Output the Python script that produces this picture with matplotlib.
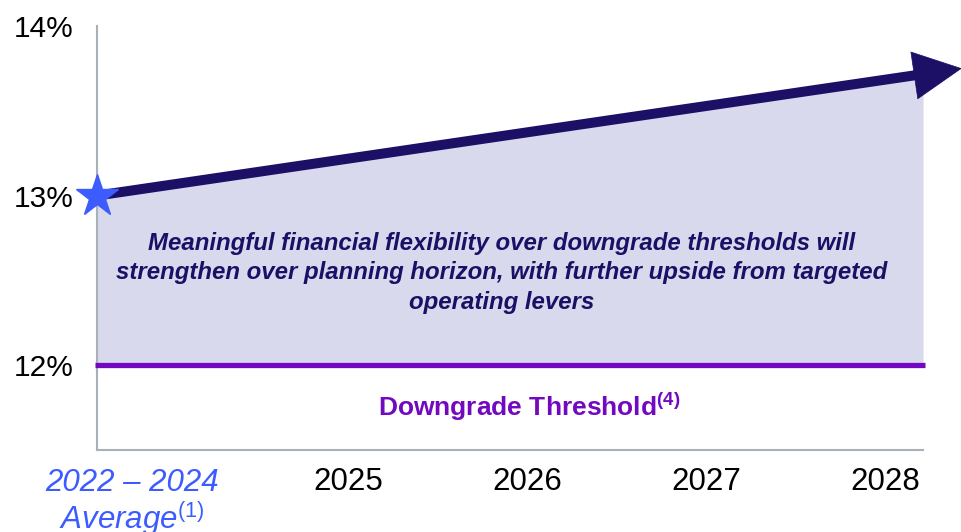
import matplotlib
matplotlib.use("Agg")
import matplotlib.pyplot as plt

# ---- data ----
y_ticks = [12, 13, 14]
y_tick_labels = ["12%", "13%", "14%"]
year_labels = ["2025", "2026", "2027", "2028"]
avg_label = "2022 – 2024\nAverage$^{\\mathit{(1)}}$"
trend_start = 13.0      # 2022-2024 average
trend_end = 13.75       # arrow tip level
threshold = 12.0
note = ("Meaningful financial flexibility over downgrade thresholds will\n"
        "strengthen over planning horizon, with further upside from targeted\n"
        "operating levers")
threshold_label = "Downgrade Threshold$^{\\mathbf{(4)}}$"

# ---- colours ----
NAVY = "#1B0F66"
FILL = "#D8D9ED"
PURPLE = "#7209C0"
BLUE = "#3D5CFF"
SPINE = "#A9B1B8"

plt.rcParams['font.family'] = ['Liberation Sans', 'DejaVu Sans']
plt.rcParams['mathtext.fontset'] = 'custom'
plt.rcParams['mathtext.rm'] = 'Liberation Sans'
plt.rcParams['mathtext.it'] = 'Liberation Sans:italic'
plt.rcParams['mathtext.bf'] = 'Liberation Sans:bold'

fig = plt.figure(figsize=(9.62, 5.32), dpi=100)
ax = fig.add_axes([97/962, 82/532, 826/962, 424/532])

# layout: x unit = one year step
x_right = 4.615
year_pos = [1.402 + i for i in range(len(year_labels))]
avg_pos = 0.196
tip_x = 4.832

slope = (trend_end - trend_start) / tip_x
fill_x = [0.0, x_right]
fill_top = [trend_start + slope * x for x in fill_x]
ax.fill_between(fill_x, [threshold, threshold], fill_top, color=FILL, lw=0, zorder=1)

# threshold line
ax.plot([-0.012, x_right + 0.012], [threshold, threshold], color=PURPLE, lw=3.8,
        solid_capstyle='butt', clip_on=False, zorder=3)

# trend arrow: shaft + head
shaft_end = tip_x - 0.16
ax.plot([0, shaft_end], [trend_start, trend_start + slope * shaft_end], color=NAVY,
        lw=7.2, solid_capstyle='butt', clip_on=False, zorder=4)
ax.annotate("", xy=(tip_x, trend_end), xytext=(0, trend_start),
            arrowprops=dict(arrowstyle="-|>,head_length=1.0,head_width=0.5",
                            mutation_scale=34, color=NAVY, lw=0.5,
                            shrinkA=0, shrinkB=0),
            annotation_clip=False, zorder=4)

# star marker
ax.plot([0], [trend_start], marker='*', ms=32, color=BLUE, mec=BLUE,
        clip_on=False, zorder=5)

ax.set_xlim(0, x_right)
ax.set_ylim(11.5, 14.0)

ax.set_yticks(y_ticks)
ax.set_yticklabels(y_tick_labels, fontsize=21.5)
ax.set_xticks(year_pos)
ax.set_xticklabels(year_labels, fontsize=22.5)
ax.tick_params(axis='y', length=0, pad=17)
ax.tick_params(axis='x', length=0, pad=12)

ax.text(avg_pos, -0.042, avg_label, transform=ax.get_xaxis_transform(),
        ha='center', va='top', fontsize=22.5, style='italic', color=BLUE,
        linespacing=1.04)

for s in ['top', 'right']:
    ax.spines[s].set_visible(False)
for s in ['left', 'bottom']:
    ax.spines[s].set_color(SPINE)
    ax.spines[s].set_linewidth(1.5)

ax.text(2.263, 12.544, note, ha='center', va='center', fontsize=17.3,
        weight='bold', style='italic', color=NAVY, linespacing=1.37, zorder=6)

ax.text(2.413, 11.751, threshold_label, ha='center', va='center', fontsize=19,
        weight='bold', color=PURPLE, zorder=6)

fig.savefig("out.png", dpi=100)
